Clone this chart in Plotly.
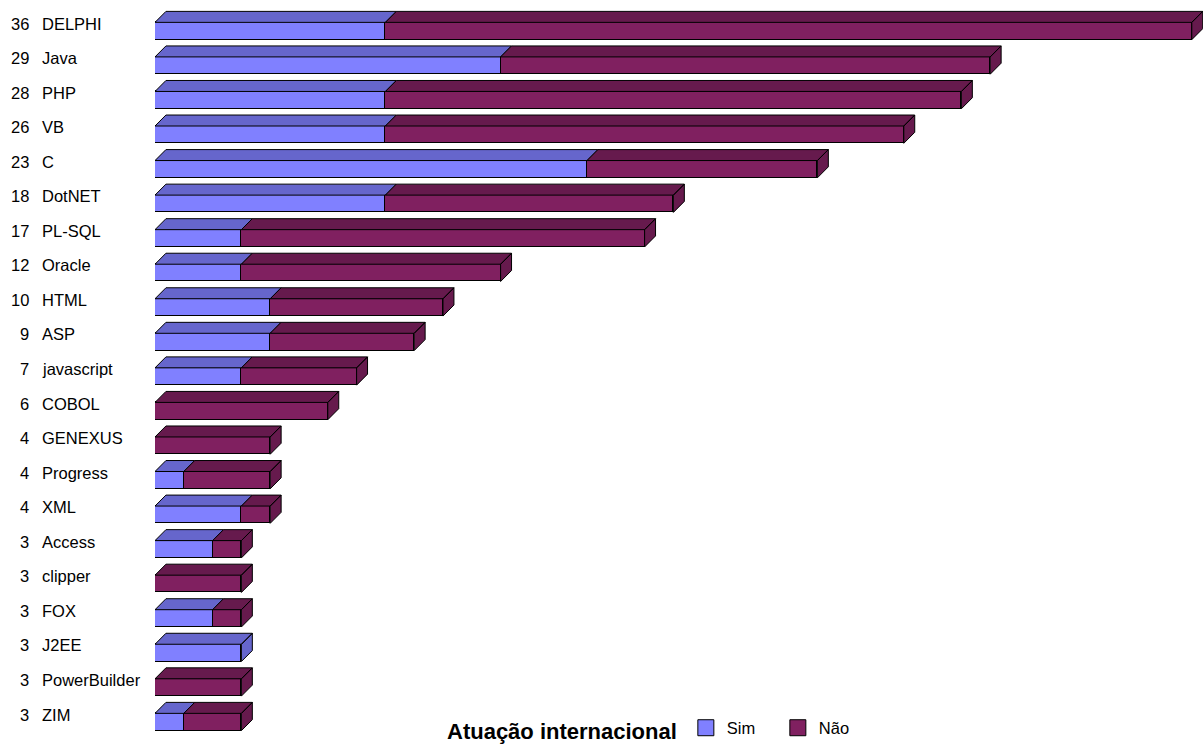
import plotly.graph_objects as go

categories = ["DELPHI", "Java", "PHP", "VB", "C", "DotNET", "PL-SQL", "Oracle",
              "HTML", "ASP", "javascript", "COBOL", "GENEXUS", "Progress", "XML",
              "Access", "clipper", "FOX", "J2EE", "PowerBuilder", "ZIM"]
sim = [8, 12, 8, 8, 15, 8, 3, 3, 4, 4, 3, 0, 0, 1, 3, 2, 0, 2, 3, 0, 1]
nao = [28, 17, 20, 18, 8, 10, 14, 9, 6, 5, 4, 6, 4, 3, 1, 1, 3, 1, 0, 3, 2]
series_names = ["Sim", "Não"]
legend_title = "Atuação internacional"

totals = [s + n for s, n in zip(sim, nao)]
idx = list(range(len(categories)))

SIM_FRONT, SIM_DARK = "#8080FF", "#6666CC"
NAO_FRONT, NAO_DARK = "#802060", "#661A4D"
BAR_W = 0.5
DX = 0.38
DY = 0.318
FONT = "Liberation Sans, Arial, sans-serif"

fig = go.Figure()

fig.add_trace(go.Bar(x=sim, y=idx, orientation="h", width=BAR_W, name=series_names[0],
                     marker=dict(color=SIM_FRONT, line=dict(color="black", width=1)),
                     showlegend=False, hoverinfo="skip"))
fig.add_trace(go.Bar(x=nao, y=idx, orientation="h", width=BAR_W, name=series_names[1],
                     marker=dict(color=NAO_FRONT, line=dict(color="black", width=1)),
                     showlegend=False, hoverinfo="skip"))

# 3D faces derived from the data
sx, sy, nx, ny = [], [], [], []
for i, s, n, t in zip(idx, sim, nao, totals):
    top = i - BAR_W / 2
    back = top - DY
    if s > 0:
        sx += [0, DX, s + DX, s, 0, None]
        sy += [top, back, back, top, top, None]
    if n > 0:
        nx += [s, s + DX, t + DX, t, s, None]
        ny += [top, back, back, top, top, None]
    side_x = [t, t + DX, t + DX, t, t, None]
    side_y = [top, back, back + BAR_W, top + BAR_W, top, None]
    if n > 0:
        nx += side_x
        ny += side_y
    else:
        sx += side_x
        sy += side_y

fig.add_trace(go.Scatter(x=sx, y=sy, mode="lines", fill="toself", fillcolor=SIM_DARK,
                         line=dict(color="black", width=1), showlegend=False, hoverinfo="skip"))
fig.add_trace(go.Scatter(x=nx, y=ny, mode="lines", fill="toself", fillcolor=NAO_DARK,
                         line=dict(color="black", width=1), showlegend=False, hoverinfo="skip"))

# legend entries
for nm, col in zip(series_names, [SIM_FRONT, NAO_FRONT]):
    fig.add_trace(go.Scatter(x=[None], y=[None], mode="markers", name=nm,
                             marker=dict(symbol="square", size=16, color=col,
                                         line=dict(color="black", width=1))))

annotations = []
for i, c, t in zip(idx, categories, totals):
    annotations.append(dict(x=0, xref="paper", y=i - 0.217, yref="y", text=str(t),
                            showarrow=False, xanchor="right", xshift=-124,
                            font=dict(family=FONT, size=16.5, color="black")))
    annotations.append(dict(x=0, xref="paper", y=i - 0.217, yref="y", text=c,
                            showarrow=False, xanchor="left", xshift=-115,
                            font=dict(family=FONT, size=16.5, color="black")))

x_max = 1048 / 28.8
y_top = -31 / 34.55
y_bot = y_top + 745 / 34.55

fig.update_layout(
    width=1203, height=745,
    margin=dict(l=155, r=0, t=0, b=0, autoexpand=False),
    paper_bgcolor="white", plot_bgcolor="white",
    barmode="stack", bargap=0,
    xaxis=dict(range=[0, x_max], visible=False, fixedrange=True),
    yaxis=dict(range=[y_bot, y_top], visible=False, fixedrange=True),
    showlegend=True,
    legend=dict(orientation="h", x=(445 - 155) / 1048, xanchor="left",
                y=(745 - 730) / 745, yanchor="middle", traceorder="normal",
                entrywidth=45, itemwidth=32,
                title=dict(text="<b>" + legend_title + "</b>",
                           font=dict(family=FONT, size=22, color="black")),
                font=dict(family=FONT, size=16.5, color="black"),
                bgcolor="rgba(0,0,0,0)"),
    annotations=annotations,
    font=dict(family=FONT),
)

fig.write_html("out.html")
